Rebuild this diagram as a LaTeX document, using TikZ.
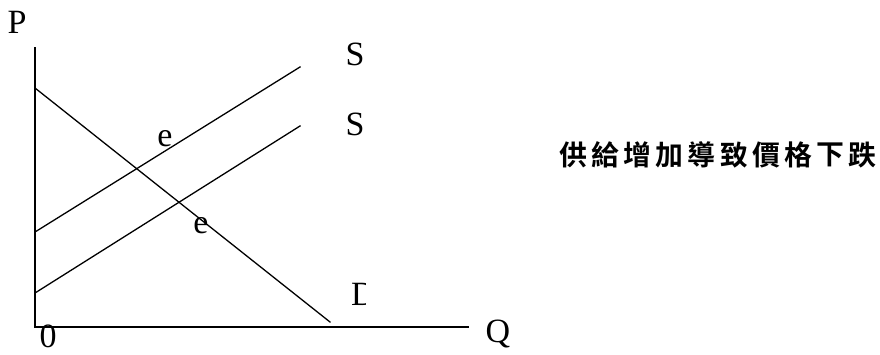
\documentclass[tikz,border=0pt]{standalone}
\usepackage{fontspec}
\usepackage{graphicx}
\setmainfont{Liberation Serif}
\newfontfamily\cjk{Noto Sans CJK TC}[BoldFont={Noto Sans CJK TC Bold}]
\begin{document}
\begin{tikzpicture}[x=1pt,y=-1pt,
  lbl/.style={font=\fontsize{34}{34}\selectfont, inner sep=0pt},
  cjkch/.style={font=\cjk\bfseries\fontsize{34}{34}\selectfont, inner sep=0pt},
  ln/.style={line width=1.3pt, line cap=rect}]
\useasboundingbox (0,0) rectangle (880,354);
% axes
\coordinate (O) at (35,327);
\coordinate (Ytop) at (35,48);
\coordinate (Xend) at (468,327);
\draw[ln] (Ytop) -- (O) -- (Xend);
% curves
\coordinate (D1) at (35,88);
\coordinate (D2) at (330,322);
\coordinate (Sa1) at (35,232);
\coordinate (Sa2) at (300,67);
\coordinate (Sb1) at (35,293);
\coordinate (Sb2) at (300,126);
\draw[ln] (D1) -- (D2);
\draw[ln] (Sa1) -- (Sa2);
\draw[ln] (Sb1) -- (Sb2);
% labels
\node[lbl] (P) at (17,22) {P};
\node[lbl] (Q) at (498,334) {Q};
\node[lbl] (zero) at (48,336) {0};
\node[lbl] (S1) at (355,54) {S};
\node[lbl] (S2) at (355,124) {S};
\node[lbl] (e1) at (165,139) {e};
\node[lbl] (e2) at (201,226) {e};
\begin{scope}
\clip (340,270) rectangle (365,320);
\node[lbl, anchor=west] (Dl) at (351,294) {D};
\end{scope}
% Chinese text
\foreach \c [count=\i from 0] in {供,給,增,加,導,致,價,格,下,跌}
  \node[cjkch] (c\i) at ({573+32.2*\i},155) {\scalebox{0.82}{\c}};
\end{tikzpicture}
\end{document}
